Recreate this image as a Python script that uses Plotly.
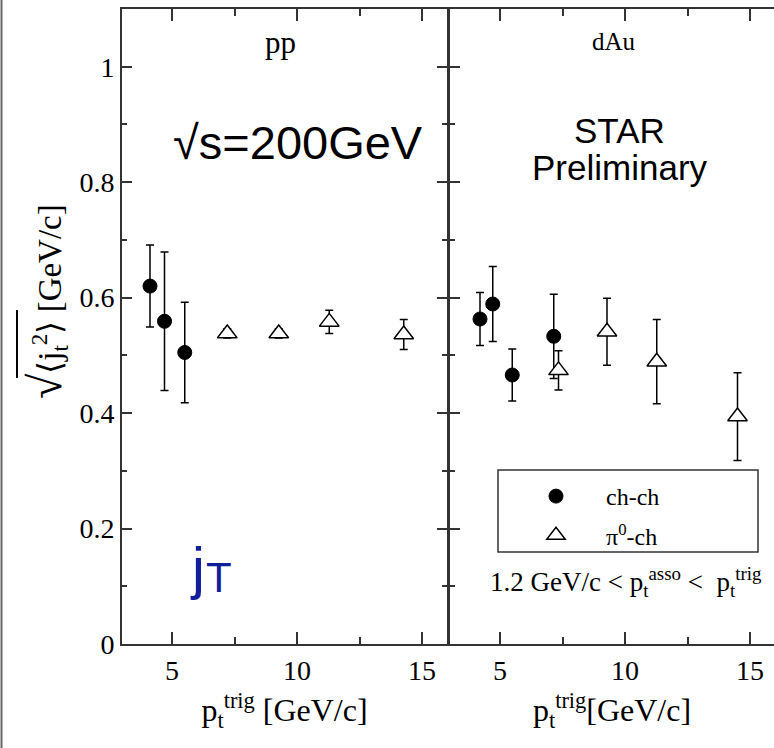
import plotly.graph_objects as go

# ---------------- data ----------------
pp_chch_x = [4.12, 4.70, 5.51]
pp_chch_y = [0.620, 0.559, 0.505]
pp_chch_err = [0.071, 0.120, 0.087]

pp_pi0_x = [7.21, 9.27, 11.29, 14.27]
pp_pi0_y = [0.538, 0.538, 0.558, 0.536]
pp_pi0_err = [0.008, 0.008, 0.020, 0.026]

dau_chch_x = [4.20, 4.71, 5.49, 7.15]
dau_chch_y = [0.563, 0.589, 0.466, 0.533]
dau_chch_err = [0.046, 0.065, 0.045, 0.073]

dau_pi0_x = [7.34, 9.28, 11.27, 14.50]
dau_pi0_y = [0.474, 0.541, 0.489, 0.394]
dau_pi0_err = [0.034, 0.058, 0.073, 0.076]

x_tickvals = [5, 10, 15]
x_ticktext = ["5", "10", "15"]
x_minor = [7.5, 12.5]
y_tickvals = [0, 0.2, 0.4, 0.6, 0.8, 1.0]
y_ticktext = ["0", "0.2", "0.4", "0.6", "0.8", "1"]
y_minor = [0.1, 0.3, 0.5, 0.7, 0.9]

# ---------------- geometry helpers (pixels -> paper) ----------------
W, H = 774, 748
L, R, T, B = 122, 0, 9, 104
PW, PH = W - L - R, H - T - B


def px(xp):
    return (xp - L) / PW


def py(yp):
    return (H - B - yp) / PH


SERIF = "Liberation Serif, Times New Roman, serif"
SANS = "Liberation Sans, Arial, sans-serif"
AX = "#333333"

fig = go.Figure()

err_style = dict(type="data", visible=True, color="black", thickness=1.5, width=4)


def add(x, y, e, xa, ya, kind, name, show):
    if kind == "circle":
        marker = dict(symbol="circle", size=14, color="black", line=dict(color="black", width=1))
    else:
        marker = dict(symbol="triangle-up", size=17, color="white", line=dict(color="black", width=1.5))
    fig.add_trace(go.Scatter(
        x=x, y=y, mode="markers", marker=marker,
        error_y=dict(array=e, **err_style),
        xaxis=xa, yaxis=ya, name=name, showlegend=show, legendgroup=name,
    ))


NB = "\u00a0"
add(pp_chch_x, pp_chch_y, pp_chch_err, "x", "y", "circle", NB * 5 + "ch-ch", False)
add(pp_pi0_x, pp_pi0_y, pp_pi0_err, "x", "y", "tri", NB * 5 + "π<sup>0</sup>-ch", False)
add(dau_chch_x, dau_chch_y, dau_chch_err, "x2", "y2", "circle", NB * 5 + "ch-ch", True)
add(dau_pi0_x, dau_pi0_y, dau_pi0_err, "x2", "y2", "tri", NB * 5 + "π<sup>0</sup>-ch", True)

common_x = dict(
    tickmode="array", tickvals=x_tickvals, ticktext=x_ticktext,
    ticks="inside", ticklen=12, tickwidth=1.5, tickcolor=AX,
    showline=True, linewidth=2, linecolor=AX, mirror="ticks",
    showgrid=False, zeroline=False,
    tickfont=dict(family=SERIF, size=28, color="black"),
    ticklabelstandoff=0,
    minor=dict(tickmode="array", tickvals=x_minor, ticks="inside", ticklen=7,
               tickwidth=1.5, tickcolor=AX, showgrid=False),
)
common_y = dict(
    range=[0, 1.1], tickmode="array", tickvals=y_tickvals, ticktext=y_ticktext,
    ticks="inside", ticklen=10, tickwidth=1.5, tickcolor=AX,
    showline=True, linewidth=2, linecolor=AX,
    showgrid=False, zeroline=False,
    tickfont=dict(family=SERIF, size=28, color="black"),
    minor=dict(tickmode="array", tickvals=y_minor, ticks="inside", ticklen=5,
               tickwidth=1.5, tickcolor=AX, showgrid=False),
)

xtitle_font = dict(family=SERIF, size=32, color="black")

fig.update_layout(
    width=W, height=H,
    margin=dict(l=L, r=R, t=T, b=B),
    paper_bgcolor="white", plot_bgcolor="white",
    xaxis=dict(domain=[0, px(447)], range=[3, 16], anchor="y",
               title=dict(text="p<sub>t</sub><sup>trig</sup> [GeV/c]", font=xtitle_font, standoff=14),
               **common_x),
    yaxis=dict(domain=[0, 1], anchor="x", mirror="ticks", **common_y),
    xaxis2=dict(domain=[px(450), 1], range=[3, 3 + (W - 450) / 25.0], anchor="y2",
                title=dict(text="p<sub>t</sub><sup>trig</sup>[GeV/c]", font=xtitle_font, standoff=14),
                **common_x),
    yaxis2=dict(domain=[0, 1], anchor="x2", mirror=False, showticklabels=False, **common_y),
    yaxis3=dict(overlaying="y2", anchor="x2", side="right",
                **{**common_y, "showline": False}, showticklabels=False),
    showlegend=True,
    legend=dict(x=px(536), y=py(474), xanchor="left", yanchor="top",
                bgcolor="rgba(0,0,0,0)", borderwidth=0,
                font=dict(family=SERIF, size=24, color="black"),
                tracegroupgap=5),
)

# legend frame and outer left frame
fig.add_shape(type="rect", xref="paper", yref="paper",
              x0=px(498), x1=px(758), y0=py(552), y1=py(470),
              line=dict(color=AX, width=1.5), fillcolor="rgba(0,0,0,0)")
fig.add_shape(type="line", xref="paper", yref="paper",
              x0=px(1.5), x1=px(1.5), y0=py(748), y1=py(0),
              line=dict(color="#666666", width=2))
# vinculum of the square root in the y-axis title
fig.add_shape(type="line", xref="paper", yref="paper",
              x0=px(17), x1=px(17), y0=py(378), y1=py(310),
              line=dict(color="black", width=2))


def ann(text, xp, yp, size, family=SERIF, color="black", xanchor="center", angle=0):
    fig.add_annotation(text=text, xref="paper", yref="paper", x=px(xp), y=py(yp),
                       xanchor=xanchor, yanchor="middle", showarrow=False,
                       textangle=angle, font=dict(family=family, size=size, color=color))


ann("pp", 280, 43, 31)
ann("dAu", 614, 41, 25)
ann("√s=200GeV", 298, 142, 47, family=SANS)
ann("STAR", 619, 130, 35, family=SANS)
ann("Preliminary", 620, 168, 35, family=SANS)
ann("j", 197, 567, 58, family=SANS, color="#101e9a")
ann("T", 219, 577, 42, family=SANS, color="#101e9a")
ann("1.2 GeV/c &lt; p<sub>t</sub><sup>asso</sup> &lt;  p<sub>t</sub><sup>trig</sup>",
    488, 582, 27, xanchor="left")
ann("<span style='font-size:46px'>√</span>⟨j<sub>t</sub><sup>2</sup>⟩ [GeV/c]", 46, 302, 33, angle=-90)

fig.write_html("out.html")
